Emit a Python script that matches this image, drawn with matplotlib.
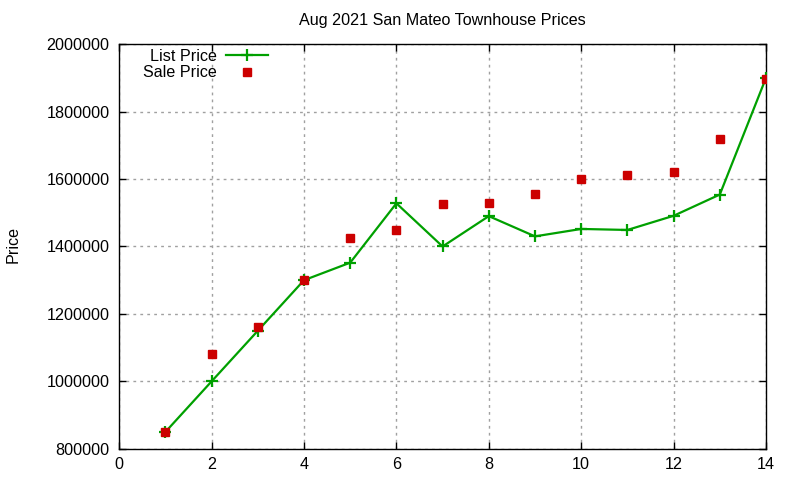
import matplotlib
matplotlib.use("Agg")
import matplotlib.pyplot as plt

# -----------------------------
# Data
# -----------------------------
months = [1, 2, 3, 4, 5, 6, 7, 8, 9, 10, 11, 12, 13, 14]
list_price = [850000, 1000000, 1150000, 1300000, 1352000, 1528000, 1400000,
              1490000, 1430000, 1452000, 1449000, 1491000, 1554000, 1900000]
sale_price = [850000, 1080000, 1160000, 1300000, 1425000, 1450000, 1525000,
              1530000, 1556000, 1600000, 1612000, 1621000, 1720000, 1898000]

plt.rcParams['font.family'] = ['Liberation Sans', 'DejaVu Sans']
plt.rcParams['font.size'] = 11.6

fig = plt.figure(figsize=(8, 4.8), dpi=100)
ax = fig.add_axes([0.149, 0.065, 0.8085, 0.843])

ax.plot(months, list_price, color='#00a000', linewidth=1.6, marker='+',
        markersize=8, markeredgewidth=1.6, label='List Price', zorder=3)
ax.plot(months, sale_price, linestyle='none', marker='s', markersize=6,
        color='#cc0000', label='Sale Price', zorder=4)

ax.set_xlim(0, 14)
ax.set_ylim(800000, 2000000)
ax.set_xticks(range(0, 15, 2))
ax.set_yticks(range(800000, 2000001, 200000))
ax.ticklabel_format(style='plain', axis='y')

ax.tick_params(direction='in', top=True, right=True, length=5, width=1)
ax.tick_params(axis='y', pad=7)
ax.tick_params(axis='x', pad=6)
ax.grid(True, color='#a0a0a0', linestyle=(0, (2, 3)), linewidth=1)
for s in ax.spines.values():
    s.set_linewidth(1)

ax.set_title('Aug 2021 San Mateo Townhouse Prices', fontsize=11.6, pad=14)
fig.text(0.016, 0.49, 'Price', rotation=90, ha='center', va='center')

ax.legend(loc='upper left', bbox_to_anchor=(0.019, 1.017), frameon=False,
          markerfirst=False, handlelength=2.6, handletextpad=0.6,
          labelspacing=0.1, borderaxespad=0.3)

fig.savefig('out.png', dpi=100)
